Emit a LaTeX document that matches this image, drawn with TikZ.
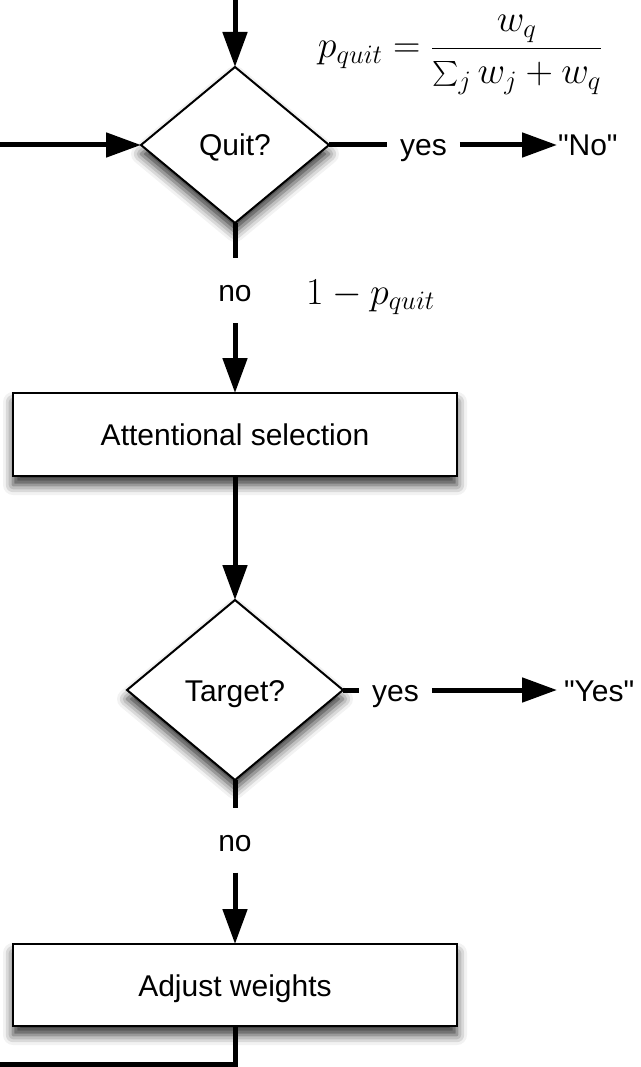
\RequirePackage{fix-cm}
\documentclass[tikz,border=0pt]{standalone}
\usepackage{amsmath}
\usepackage[no-math]{fontspec}
\setmainfont{Liberation Sans}
\newfontfamily\labelfont{Liberation Sans}
\usetikzlibrary{arrows.meta,shapes.geometric,shadows.blur}
\begin{document}
\begin{tikzpicture}[x=1pt,y=-1pt,
  txt/.style={font=\labelfont\fontsize{30}{36}\selectfont, text height=22pt, text depth=0pt},
  mathtxt/.style={font=\fontsize{38}{44}\selectfont, inner sep=0pt},
  conn/.style={line width=5pt},
  arr/.style={line width=5pt, -{Triangle[length=35pt,width=24pt]}},
  shad/.style={blur shadow={shadow xshift=0pt, shadow yshift=-9pt, shadow blur radius=10pt, shadow opacity=80}},
  decision/.style={shape=diamond, draw, line width=2pt, fill=white, inner sep=0pt, outer sep=0pt, shad},
  process/.style={rectangle, draw, line width=2.5pt, fill=white, minimum width=444pt, inner sep=0pt, outer sep=0pt, shad},
  lblh/.style={inner xsep=13pt, inner ysep=0pt, outer sep=0pt},
  lblv/.style={inner xsep=0pt, inner ysep=21.5pt, outer sep=0pt},
  result/.style={inner xsep=1pt, inner ysep=0pt, outer sep=0pt, anchor=west}
]
\useasboundingbox (0,0) rectangle (640,1067);

% nodes
\coordinate (top) at (235,0);
\coordinate (loopin) at (0,145);
\node[decision, txt, minimum width=188pt, minimum height=156pt] (quit) at (235,145) {Quit?};
\node[txt, lblh] (yes1) at (423.5,145) {yes};
\node[txt, result] (nores) at (557,145) {"No"};
\node[txt, lblv] (no1) at (235,290.5) {no};
\node[process, txt, minimum height=83pt] (att) at (235,434.5) {Attentional selection};
\node[decision, txt, minimum width=216pt, minimum height=180pt] (target) at (235,690) {Target?};
\node[txt, lblh] (yes2) at (395.5,690) {yes};
\node[txt, result, inner xsep=7pt] (yesres) at (557,690) {"Yes"};
\node[txt, lblv] (no2) at (235,840) {no};
\node[process, txt, minimum height=82pt] (adj) at (235,985) {Adjust weights};
\coordinate (lc) at (235,1064);
\coordinate (lend) at (0,1064);

\node[mathtxt] (formula) at (460,55) {$\displaystyle p_{quit}=\frac{w_q}{\sum_j w_j+w_q}$};
\node[mathtxt, anchor=base west] (notquit) at (306,304) {$1-p_{quit}$};

% connectors
\draw[arr] (top) -- (quit.north);
\draw[arr] (loopin) -- (quit.west);
\draw[conn] (quit.east) -- (yes1.west);
\draw[arr] (yes1.east) -- (nores.west);
\draw[conn] (quit.south) -- (no1.north);
\draw[arr] (no1.south) -- (att.north);
\draw[arr] (att.south) -- (target.north);
\draw[conn] (target.east) -- (yes2.west);
\draw[arr] (yes2.east) -- (yesres.west);
\draw[conn] (target.south) -- (no2.north);
\draw[arr] (no2.south) -- (adj.north);
\draw[conn] (adj.south) -- (lc) -- (lend);
\end{tikzpicture}
\end{document}
